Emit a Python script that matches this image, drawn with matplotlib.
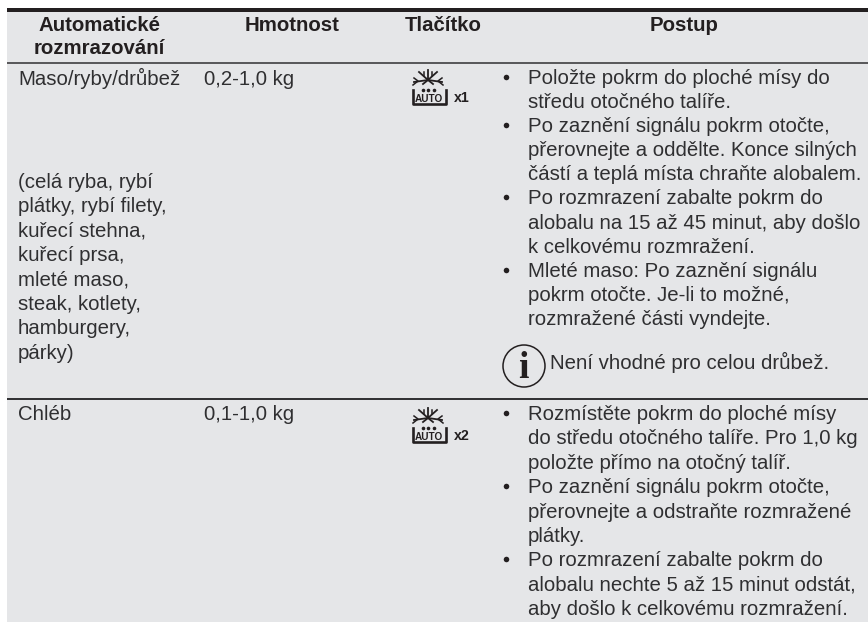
import matplotlib
matplotlib.use('Agg')
import matplotlib.pyplot as plt
from matplotlib.patches import Rectangle, Circle

# table content
headers = [("Automatické\nrozmrazování", 99), ("Hmotnost", 292), ("Tlačítko", 443), ("Postup", 684)]
weights = ["0,2-1,0 kg", "0,1-1,0 kg"]
foods = ["Maso/ryby/drůbež", "Chléb"]
food_note = ["(celá ryba, rybí", "plátky, rybí filety,", "kuřecí stehna,", "kuřecí prsa,",
             "mleté maso,", "steak, kotlety,", "hamburgery,", "párky)"]
press_count = ["x1", "x2"]
steps_meat = [
    ["Položte pokrm do ploché mísy do", "středu otočného talíře."],
    ["Po zaznění signálu pokrm otočte,", "přerovnejte a oddělte. Konce silných",
     "částí a teplá místa chraňte alobalem."],
    ["Po rozmrazení zabalte pokrm do", "alobalu na 15 až 45 minut, aby došlo", "k celkovému rozmražení."],
    ["Mleté maso: Po zaznění signálu", "pokrm otočte. Je-li to možné,", "rozmražené části vyndejte."],
]
note_text = "Není vhodné pro celou drůbež."
steps_bread = [
    ["Rozmístěte pokrm do ploché mísy", "do středu otočného talíře. Pro 1,0 kg", "položte přímo na otočný talíř."],
    ["Po zaznění signálu pokrm otočte,", "přerovnejte a odstraňte rozmražené", "plátky."],
    ["Po rozmrazení zabalte pokrm do", "alobalu nechte 5 až 15 minut odstát,", "aby došlo k celkovému rozmražení."],
]

W, H = 868, 622
ink = '#2F2F31'
dark = '#231F20'
fs = 20.4 * 0.72

plt.rcParams['font.family'] = ['Liberation Sans', 'DejaVu Sans']
fig = plt.figure(figsize=(W / 100, H / 100), dpi=100)
ax = fig.add_axes([0, 0, 1, 1])
ax.set_xlim(0, W)
ax.set_ylim(H, 0)
ax.axis('off')

# background and rules
ax.add_patch(Rectangle((7, 10), W - 7, H - 10, color='#E5E6E8', lw=0))
ax.add_patch(Rectangle((7, 7.5), W - 7, 4, color=dark, lw=0))
ax.add_patch(Rectangle((7, 61.5), W - 7, 2, color='#5A5A5C', lw=0))
ax.add_patch(Rectangle((7, 398.3), W - 7, 1.5, color='#333335', lw=0))


def txt(x, y, s, **kw):
    kw.setdefault('fontsize', fs)
    kw.setdefault('color', ink)
    ax.text(x, y, s, va='baseline', **kw)


# header
for label, cx in headers:
    for i, part in enumerate(label.split("\n")):
        txt(cx, 31 + i * 22.5, part, ha='center', fontweight='bold', color=dark)

# first two columns
txt(18, 85, foods[0])
txt(18, 420, foods[1])
txt(203.5, 85, weights[0])
txt(203.5, 420, weights[1])
for i, s in enumerate(food_note):
    txt(18, 188 + i * 24.4, s)


def steps(groups, y, pitch):
    for group in groups:
        ax.plot([506], [y - 7.2], 'o', ms=4, color=dark, mew=0)
        for s in group:
            txt(528, y, s)
            y += pitch


steps(steps_meat, 84, 24.1)
steps(steps_bread, 420, 24.4)


def auto_icon(dy, label):
    cx, cy = 428, 80 + dy
    # snowflake arms
    for ox, oy in [(0, -10), (-9, -8), (9, -8), (-14, 2), (14, 2), (-5, 4), (5, 4)]:
        ax.plot([cx, cx + ox], [cy, cy + oy], color=dark, lw=1.3)
    for sx in (-1, 1):
        ax.plot([cx + sx * 14, cx + sx * 10, cx + sx * 15], [cy - 2, cy + 1, cy + 5], color=dark, lw=1.1)
        ax.plot([cx + sx * 4, cx + sx * 4], [cy - 8, cy - 4], color=dark, lw=1.1)
    # drops
    for ox in (-5.5, 0, 5.5):
        ax.plot([cx + ox], [cy + 9.5], 'o', ms=2.6, color=dark, mew=0)
    # tray
    ax.plot([412.5, 412.5, 445.5, 445.5], [cy + 10, cy + 24, cy + 24, cy + 10], color=dark, lw=1.9,
            solid_joinstyle='round')
    ax.text(cx + 1, cy + 21.5, "AUTO", fontsize=7.2, fontweight='bold', color=dark, ha='center', va='baseline')
    ax.text(454, cy + 22.5, label, fontsize=10.3, fontweight='bold', color=dark, ha='left', va='baseline')


auto_icon(0, press_count[0])
auto_icon(338, press_count[1])

# info note
ax.add_patch(Circle((524, 366), 21, fill=False, ec=dark, lw=1.1))
ax.text(523, 378.5, "i", fontsize=27, fontweight='bold', family='Liberation Serif', color=dark,
        ha='center', va='baseline')
txt(549.5, 369, note_text)

fig.savefig('out.png', dpi=100)
